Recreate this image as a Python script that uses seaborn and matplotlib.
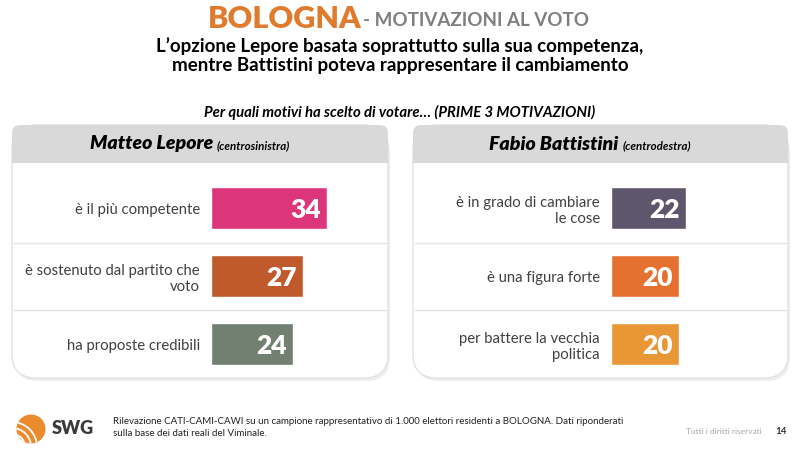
import matplotlib
matplotlib.use("Agg")
import matplotlib.pyplot as plt
import seaborn as sns
import pandas as pd
from matplotlib.patches import FancyBboxPatch, Rectangle, Circle, Arc

# data
lepore_labels = ["è il più competente", "è sostenuto dal partito che\nvoto", "ha proposte credibili"]
lepore_values = [34, 27, 24]
lepore_colors = ["#DD3579", "#C05A2C", "#728071"]

battistini_labels = ["è in grado di cambiare\nle cose", "è una figura forte", "per battere la vecchia\npolitica"]
battistini_values = [22, 20, 20]
battistini_colors = ["#5E566C", "#E4712F", "#E99634"]

sns.set_theme(style="white")
plt.rcParams['font.family'] = ['Lato', 'DejaVu Sans']

W, H = 800, 449
fig = plt.figure(figsize=(8, 4.49), dpi=100)

# background axes in pixel coordinates
bg = fig.add_axes([0, 0, 1, 1])
bg.set_xlim(0, W)
bg.set_ylim(H, 0)
bg.axis("off")

# titles
bg.text(208, 19, "BOLOGNA", fontsize=22, fontweight="heavy", color="#E07B2E", va="center", ha="left")
bg.text(363, 21, "- MOTIVAZIONI AL VOTO", fontsize=13.5, fontweight="bold", color="#7F7F7F", va="center", ha="left")
bg.text(400, 46, "L’opzione Lepore basata soprattutto sulla sua competenza,", fontsize=13.5,
        fontweight="bold", color="black", ha="center", va="center")
bg.text(400, 65, "mentre Battistini poteva rappresentare il cambiamento", fontsize=13.5,
        fontweight="bold", color="black", ha="center", va="center")
bg.text(400, 112, "Per quali motivi ha scelto di votare… (PRIME 3 MOTIVAZIONI)", fontsize=10.7,
        fontweight="bold", style="italic", color="black", ha="center", va="center")


def panel(x0, x1, name, side, offset):
    top, bottom = 125, 378
    # shadow + body
    bg.add_patch(FancyBboxPatch((x0 + 2, top + 3), x1 - x0, bottom - top,
                                boxstyle="round,pad=0,rounding_size=24",
                                fc="#EDEDED", ec="none", zorder=1))
    bg.add_patch(FancyBboxPatch((x0, top), x1 - x0, bottom - top,
                                boxstyle="round,pad=0,rounding_size=24",
                                fc="white", ec="#E2E2E2", lw=1, zorder=2))
    # header
    bg.add_patch(FancyBboxPatch((x0, top), x1 - x0, 38,
                                boxstyle="round,pad=0,rounding_size=8",
                                fc="#D9D9D9", ec="none", zorder=3))
    bg.add_patch(Rectangle((x0, top + 20), x1 - x0, 18, fc="#D9D9D9", ec="none", zorder=3))
    # separators
    for y in (243, 310):
        bg.plot([x0 + 2, x1 - 2], [y, y], color="#E4E4E4", lw=1, zorder=4)
    cx = (x0 + x1) / 2
    bg.text(cx + offset, 144, name + " ", fontsize=14, fontweight="heavy", style="italic",
            color="black", ha="right", va="center", zorder=5)
    bg.text(cx + offset, 146, side, fontsize=8.3, style="italic", fontweight="bold",
            color="black", ha="left", va="center", zorder=5)


panel(12, 388, "Matteo Lepore", "(centrosinistra)", 17)
panel(413, 788, "Fabio Battistini", "(centrodestra)", 22)

px_per_unit = 3.41


def bars(x_left, labels, values, colors):
    width_px = 170
    ax = fig.add_axes([x_left / W, 1 - 378 / H, width_px / W, 204 / H])
    ax.set_zorder(10)
    ax.patch.set_alpha(0)
    df = pd.DataFrame({"label": labels, "value": values})
    sns.barplot(data=df, x="value", y="label", hue="label", palette=colors,
                legend=False, width=0.62, ax=ax, saturation=1, orient="h")
    ax.set_xlim(0, width_px / px_per_unit)
    ax.set_ylim(2.5, -0.5)
    ax.set_xlabel("")
    ax.set_ylabel("")
    ax.set_xticks([])
    for s in ax.spines.values():
        s.set_visible(False)
    ax.tick_params(axis="y", length=0, pad=8, labelsize=10.7, labelcolor="#404040")
    for i, v in enumerate(values):
        ax.text(v - 1.8, i + 0.03, str(v), color="white", fontsize=19, fontweight="heavy",
                ha="right", va="center")


bars(211, lepore_labels, lepore_values, lepore_colors)
bars(611, battistini_labels, battistini_values, battistini_colors)

# footer logo
logo = Circle((31, 429), 14.5, fc="#EC8A2E", ec="none")
bg.add_patch(logo)
for r in (13, 19, 25):
    arc = Arc((12, 447), 2 * r, 2 * r, theta1=270, theta2=360, color="white", lw=1.3)
    bg.add_patch(arc)
    arc.set_clip_path(logo)
bg.text(52, 429, "SWG", fontsize=13, fontweight="heavy", color="#3A3A3A", va="center", ha="left")
bg.text(113, 422, "Rilevazione CATI-CAMI-CAWI su un campione rappresentativo di 1.000 elettori residenti a BOLOGNA. Dati riponderati",
        fontsize=7, color="#222222", va="center", ha="left")
bg.text(113, 434, "sulla base dei dati reali del Viminale.", fontsize=7, color="#222222", va="center", ha="left")
bg.text(686, 431, "Tutti i diritti riservati", fontsize=6, color="#A8A8A8", va="center", ha="left")
bg.text(775, 431, "14", fontsize=7, fontweight="bold", color="#333333", va="center", ha="left")

fig.savefig("out.png", dpi=100)
